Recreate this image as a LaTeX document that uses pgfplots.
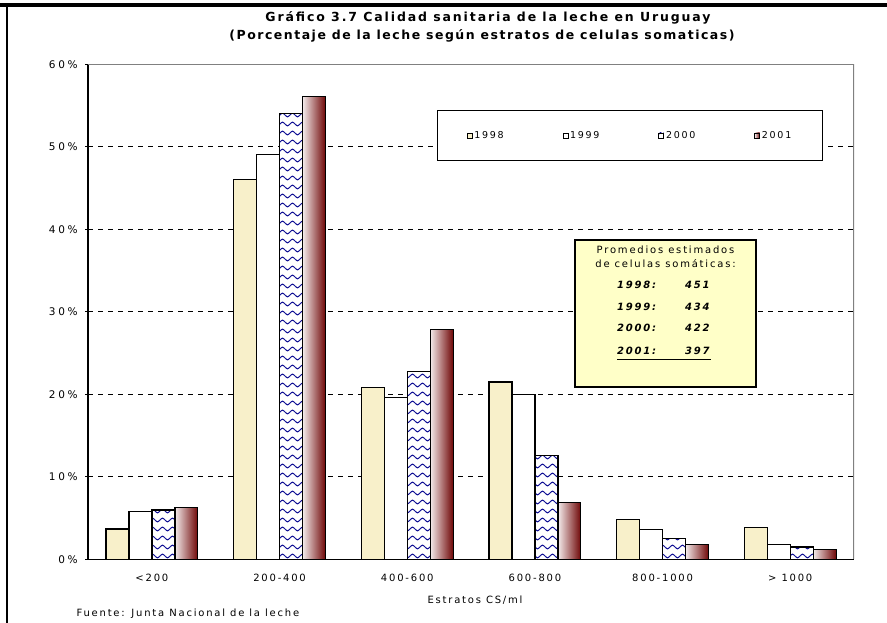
\documentclass[border=0pt]{standalone}
\usepackage{fontspec}
\setmainfont[LetterSpace=18]{DejaVu Sans}
\newfontfamily\titlefontA[LetterSpace=15]{DejaVu Sans Bold}
\newfontfamily\titlefontB[LetterSpace=12]{DejaVu Sans Bold}
\newfontfamily\tickfont[LetterSpace=25]{DejaVu Sans}
\usepackage{pgfplots}
\pgfplotsset{compat=1.18}
\usetikzlibrary{patterns}
\definecolor{cream}{RGB}{248,240,202}
\definecolor{maroonc}{RGB}{110,5,5}
\definecolor{boxyellow}{RGB}{255,255,200}
\definecolor{wavec}{RGB}{20,20,150}
\pgfdeclarepatternformonly{waves}{\pgfpoint{-1pt}{-1pt}}{\pgfpoint{11pt}{10pt}}{\pgfpoint{10pt}{9pt}}{%
 \pgfsetlinewidth{1pt}
 \pgfpathmoveto{\pgfpoint{0pt}{4pt}}
 \pgfpathcurveto{\pgfpoint{2.5pt}{6.5pt}}{\pgfpoint{2.5pt}{6.5pt}}{\pgfpoint{5pt}{4pt}}
 \pgfpathcurveto{\pgfpoint{7.5pt}{1.5pt}}{\pgfpoint{7.5pt}{1.5pt}}{\pgfpoint{10pt}{4pt}}
 \pgfusepath{stroke}}
\pgfplotsset{bar2001/.style={draw=black, line width=1.2pt, left color=maroonc!8!white, right color=maroonc, bar shift=0.27}}
\begin{document}
\begin{tikzpicture}[x=1pt,y=1pt]
\path[use as bounding box] (0,0) rectangle (887,623);
\fill[white] (0,0) rectangle (887,623);
\draw[line width=4pt] (0,618) -- (887,618);
\draw[line width=1.5pt] (7,0) -- (7,620);
\begin{axis}[
  at={(69,77)}, anchor=south west,
  scale only axis, width=766pt, height=495pt,
  xmin=-0.5, xmax=5.5, ymin=0, ymax=60,
  ybar, bar width=0.18,
  axis x line*=bottom, axis y line*=left,
  axis line style={line width=1.2pt, black, -},
  xtick={0,...,5},
  xticklabels={<200, 200-400, 400-600, 600-800, 800-1000, > 1000},
  x tick label style={font=\fontsize{10}{12}\selectfont, yshift=-8pt},
  extra x ticks={-0.5,0.5,...,5.5},
  extra x tick labels={},
  extra x tick style={major tick length=5pt, tick align=outside, tick style={line width=1pt, black}},
  ytick={0,10,...,60},
  yticklabel={\pgfmathprintnumber{\tick}\%},
  /pgf/number format/assume math mode=true,
  y tick label style={font=\tickfont\fontsize{10.5}{12}\selectfont, xshift=-4pt},
  y tick style={line width=1pt, black},
  tick align=center, major tick length=6pt,
  x tick style={draw=none},
  ymajorgrids,
  grid style={black, line width=1pt, dash pattern=on 5pt off 5pt},
  legend columns=4,
  legend image code/.code={\draw[#1, line width=0.6pt] (0pt,-2.5pt) rectangle (5pt,2.5pt);},
  legend style={at={(0.4556,0.909)}, anchor=north west, draw=black, line width=1.2pt,
    inner xsep=29pt, inner ysep=19pt, font=\fontsize{9.5}{11}\selectfont,
    /tikz/every even column/.append style={column sep=57pt}},
]
\addplot[draw=black, fill=cream, line width=1.2pt, bar shift=-0.27] coordinates {(0,3.7) (1,46.1) (2,20.8) (3,21.5) (4,4.8) (5,3.9)};
\addlegendentry{1998}
\addplot[draw=black, fill=white, line width=1.2pt, bar shift=-0.09] coordinates {(0,5.8) (1,49.1) (2,19.6) (3,20.0) (4,3.6) (5,1.8)};
\addlegendentry{1999}
\addplot[draw=black, fill=white, line width=1.2pt, bar shift=0.09, postaction={pattern=waves, pattern color=wavec}] coordinates {(0,6.0) (1,54.1) (2,22.8) (3,12.6) (4,2.5) (5,1.5)};
\addlegendentry{2000}
\addplot[bar2001] coordinates {(0,6.3)};
\addlegendentry{2001}
\addplot[bar2001, forget plot] coordinates {(1,56.1)};
\addplot[bar2001, forget plot] coordinates {(2,27.9)};
\addplot[bar2001, forget plot] coordinates {(3,6.9)};
\addplot[bar2001, forget plot] coordinates {(4,1.8)};
\addplot[bar2001, forget plot] coordinates {(5,1.2)};
\draw[gray, line width=1.2pt] (rel axis cs:0,1) -- (rel axis cs:1,1) -- (rel axis cs:1,0);
\end{axis}
\node[font=\titlefontA\fontsize{12.5}{14}\selectfont] at (488,605) {Gráfico 3.7 Calidad sanitaria de la leche en Uruguay};
\node[font=\titlefontB\fontsize{12.5}{14}\selectfont] at (482,587) {(Porcentaje de la leche según estratos de celulas somaticas)};
\node[font=\fontsize{10}{12}\selectfont] at (475,23) {Estratos CS/ml};
\node[font=\fontsize{10}{12}\selectfont, anchor=west] at (73,9) {Fuente: Junta Nacional de la leche};
\draw[line width=2.2pt, fill=boxyellow] (575,236) rectangle (756,383);
\node[font=\fontsize{10}{12}\selectfont] at (665.5,373) {Promedios estimados};
\node[font=\fontsize{10}{12}\selectfont] at (665.5,359) {de celulas somáticas:};
\begin{scope}[every node/.style={font=\fontsize{10}{12}\selectfont\itshape\bfseries, anchor=west, inner sep=0pt}]
\node at (617,338) {1998:}; \node at (685,338) {451};
\node at (617,316) {1999:}; \node at (685,316) {434};
\node at (617,295) {2000:}; \node at (685,295) {422};
\node at (617,272) {2001:}; \node at (685,272) {397};
\end{scope}
\draw[line width=0.8pt] (617,264) -- (711,264);
\end{tikzpicture}
\end{document}
